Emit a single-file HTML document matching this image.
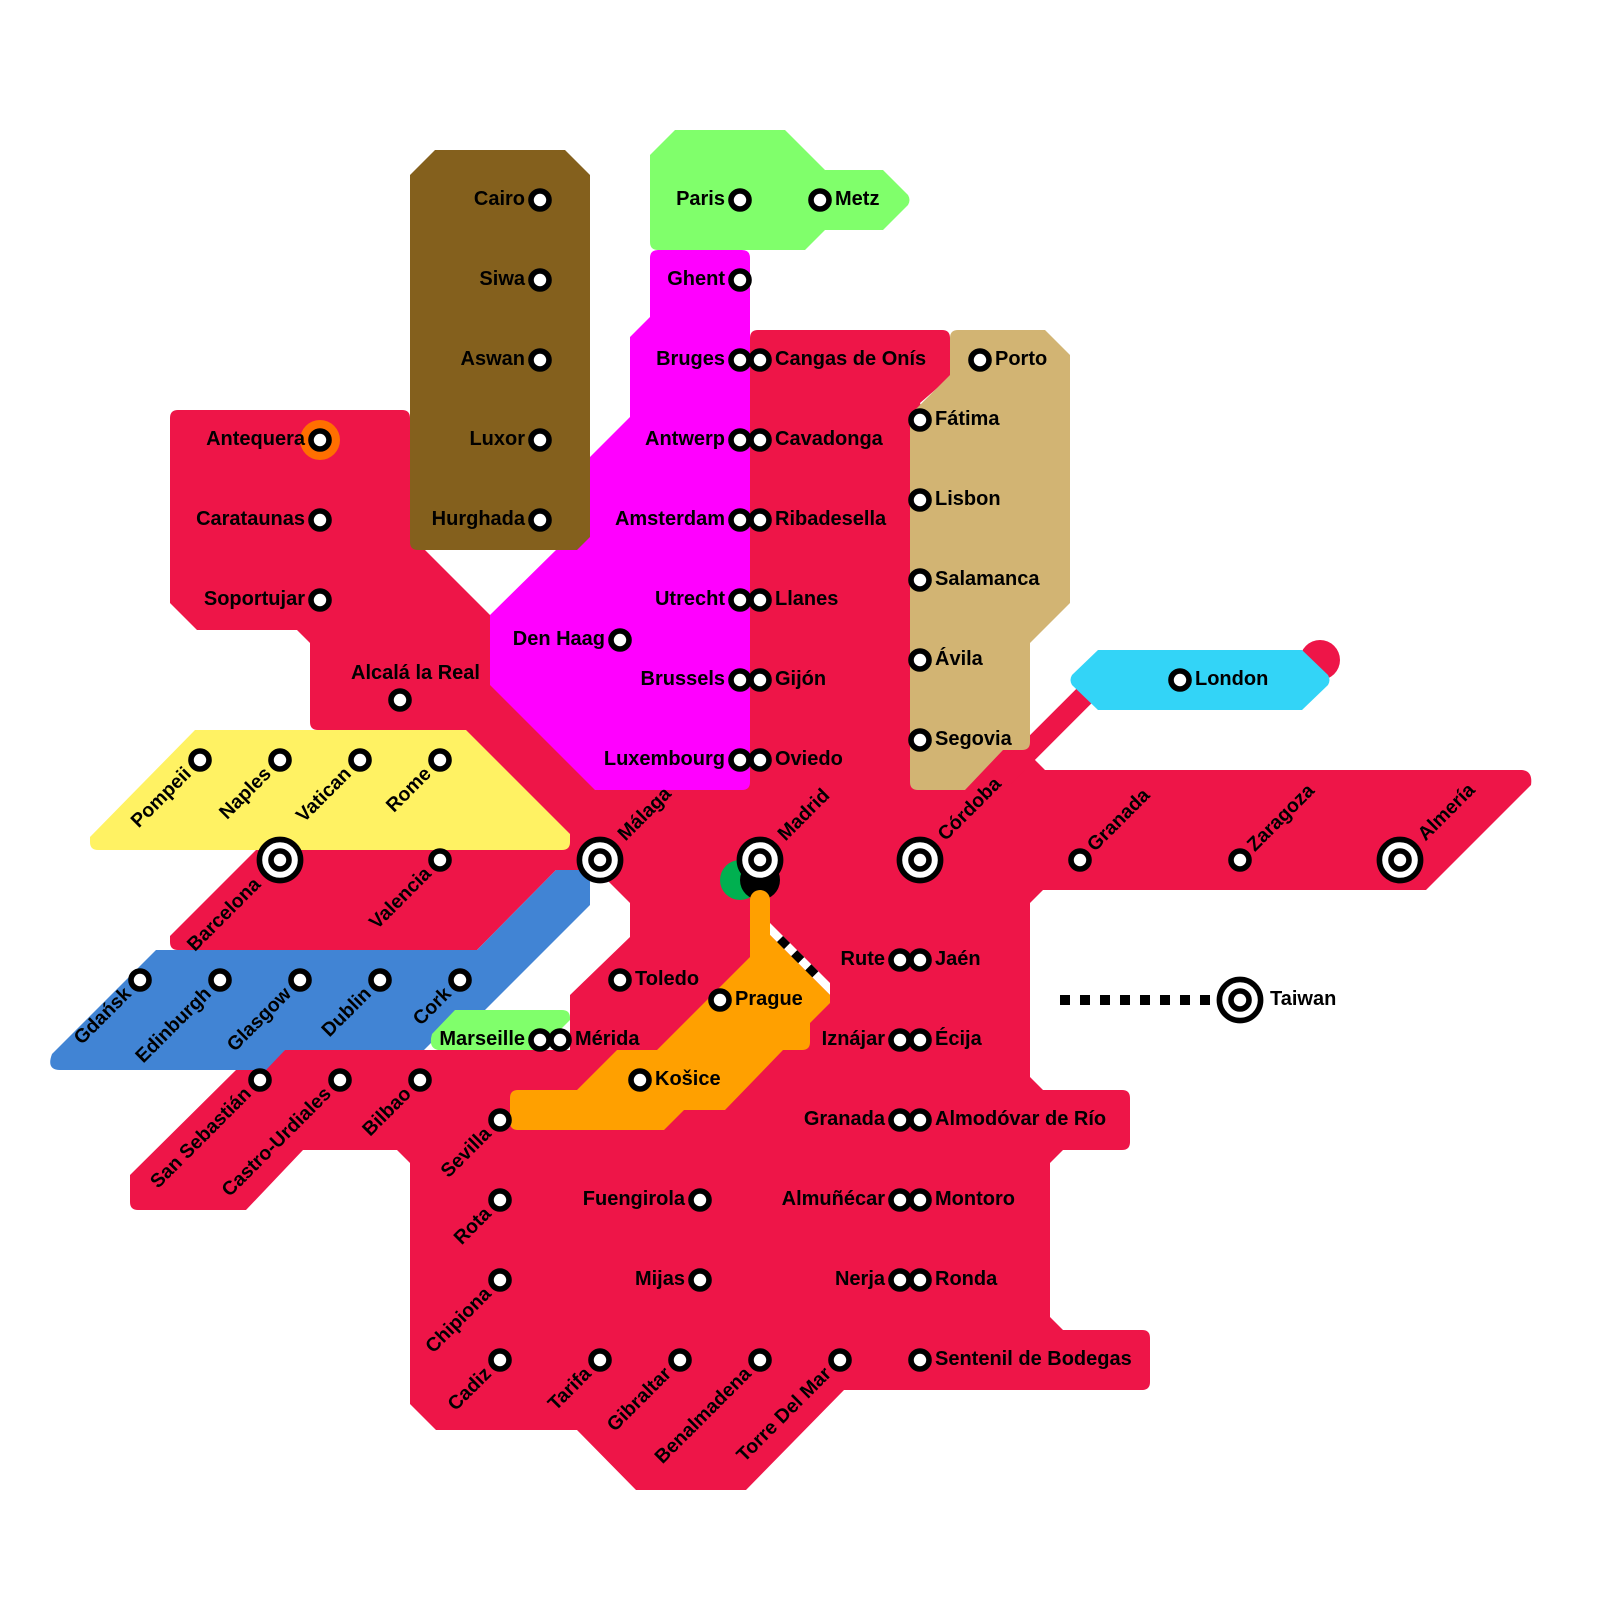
<!DOCTYPE html>
<html lang="en"><head><meta charset="utf-8"><title>Transit map</title>
<style>
html,body{margin:0;padding:0;background:#fff}
svg{display:block}
text{font-family:"Liberation Sans",sans-serif;font-weight:bold;font-size:20px;fill:#000}
.e{text-anchor:end}
.r{font-size:19.5px}
.s{fill:#fff;stroke:#000;stroke-width:5.6}
</style></head><body>
<svg xmlns="http://www.w3.org/2000/svg" width="1600" height="1600" viewBox="0 0 1600 1600">
<rect width="1600" height="1600" fill="#fff"/>
<!-- red -->
<path fill="#ee1548" d="M178,410 L402,410 Q410,410 410,418 L410,535 L425,550 L490,615 L530,640 L750,338 Q750,330 758,330 L942,330 Q950,330 950,338 L950,377 L920,403 L1015,750 L1035,760 L1045,770 L1522,770 Q1533,771 1531,785 L1426,890 L1043,890 L1030,903 L1030,1077 L1043,1090 L1122,1090 Q1130,1090 1130,1098 L1130,1142 Q1130,1150 1122,1150 L1063,1150 L1050,1163 L1050,1317 L1063,1330 L1142,1330 Q1150,1330 1150,1338 L1150,1382 Q1150,1390 1142,1390 L844,1390 L746,1490 L636,1490 L577,1430 L436,1430 L410,1404 L410,1163 L397,1150 L303,1150 L246,1210 L138,1210 Q130,1210 130,1202 L130,1175 L236,1070 L285,1050 L570,1050 L570,995 L630,937 L630,903 L597,870 L556,870 L477,950 L178,950 Q170,950 170,942 L170,936 L256,850 L320,735 L320,730 L318,730 Q310,730 310,722 L310,643 L297,630 L197,630 L170,603 L170,418 Q170,410 178,410 Z"/>
<line x1="1000" y1="780" x2="1090" y2="690" stroke="#ee1548" stroke-width="21"/>
<circle cx="1320" cy="660" r="20" fill="#ee1548"/>
<!-- magenta -->
<path fill="#ff00ff" d="M658,250 L742,250 Q750,250 750,258 L750,782 Q750,790 742,790 L595,790 L490,685 L490,615 L556,550 L590,516 L590,457 L630,417 L630,337 L650,317 L650,258 Q650,250 658,250 Z"/>
<!-- brown -->
<path fill="#84601d" d="M410,175 L435,150 L565,150 L590,175 L590,537 L577,550 L418,550 Q410,550 410,542 Z"/>
<!-- light green -->
<path fill="#80ff6b" d="M650,155 L675,130 L785,130 L825,170 L883,170 L908,195 Q911,200 908,205 L883,230 L825,230 L805,250 L658,250 Q650,250 650,242 Z"/>
<!-- tan -->
<path fill="#d2b473" d="M958,330 L1045,330 L1070,355 L1070,603 L1030,643 L1030,742 Q1030,750 1022,750 L1003,750 L965,790 L918,790 Q910,790 910,782 L910,415 L950,375 L950,338 Q950,330 958,330 Z"/>
<!-- cyan -->
<path fill="#33d4f7" d="M1072,675 L1098,650 L1302,650 L1328,675 Q1331,680 1328,685 L1302,710 L1098,710 L1072,685 Q1069,680 1072,675 Z"/>
<!-- yellow -->
<path fill="#fff263" d="M195,730 L466,730 L570,834 L570,842 Q570,850 562,850 L98,850 Q90,850 90,842 L90,837 Z"/>
<!-- blue -->
<path fill="#4184d4" d="M156,950 L477,950 L556,870 L582,870 Q590,870 590,878 L590,905 L485,1010 L464,1010 L424,1050 L285,1050 L266,1070 L60,1070 Q46,1070 52,1054 Z"/>
<!-- Marseille green -->
<path fill="#80ff6b" d="M455,1010 L562,1010 Q570,1010 570,1018 L570,1020 L540,1050 L438,1050 Q428,1048 432,1034 Z"/>
<!-- Madrid dots -->
<circle cx="740" cy="880" r="20" fill="#00b050"/>
<circle cx="760" cy="880" r="20" fill="#000"/>
<!-- dashed under orange -->
<polygon points="770,923 830,983 830,995 770,935" fill="#fff"/>
<line x1="779.5" y1="939.5" x2="818" y2="978" stroke="#000" stroke-width="10" stroke-dasharray="10 10"/>
<!-- orange -->
<path fill="#ffa000" d="M750,900 A10,10 0 0 1 770,900 L770,935 L830,995 L830,1003 L810,1023 L810,1042 Q810,1050 802,1050 L783,1050 L725,1110 L684,1110 L664,1130 L518,1130 Q510,1130 510,1122 L510,1098 Q510,1090 518,1090 L577,1090 L617,1050 L657,1050 L750,957 Z"/>
<!-- Taiwan dashes -->
<line x1="1060" y1="1000" x2="1210" y2="1000" stroke="#000" stroke-width="10" stroke-dasharray="10 10"/>
<!-- Antequera ring -->
<circle cx="320" cy="440" r="20" fill="#ff6f00"/>
<!-- stations -->
<g class="st">
<circle class="s" cx="540" cy="200" r="9"/><circle class="s" cx="540" cy="280" r="9"/><circle class="s" cx="540" cy="360" r="9"/><circle class="s" cx="540" cy="440" r="9"/><circle class="s" cx="540" cy="520" r="9"/>
<circle class="s" cx="740" cy="200" r="9"/><circle class="s" cx="820" cy="200" r="9"/><circle class="s" cx="740" cy="280" r="9"/>
<circle class="s" cx="740" cy="360" r="9"/><circle class="s" cx="760" cy="360" r="9"/>
<circle class="s" cx="740" cy="440" r="9"/><circle class="s" cx="760" cy="440" r="9"/>
<circle class="s" cx="740" cy="520" r="9"/><circle class="s" cx="760" cy="520" r="9"/>
<circle class="s" cx="740" cy="600" r="9"/><circle class="s" cx="760" cy="600" r="9"/>
<circle class="s" cx="620" cy="640" r="9"/>
<circle class="s" cx="740" cy="680" r="9"/><circle class="s" cx="760" cy="680" r="9"/>
<circle class="s" cx="740" cy="760" r="9"/><circle class="s" cx="760" cy="760" r="9"/>
<circle class="s" cx="980" cy="360" r="9"/><circle class="s" cx="920" cy="420" r="9"/><circle class="s" cx="920" cy="500" r="9"/><circle class="s" cx="920" cy="580" r="9"/><circle class="s" cx="920" cy="660" r="9"/><circle class="s" cx="920" cy="740" r="9"/>
<circle class="s" cx="1180" cy="680" r="9"/>
<circle class="s" cx="320" cy="440" r="9"/><circle class="s" cx="320" cy="520" r="9"/><circle class="s" cx="320" cy="600" r="9"/><circle class="s" cx="400" cy="700" r="9"/>
<circle class="s" cx="200" cy="760" r="9"/><circle class="s" cx="280" cy="760" r="9"/><circle class="s" cx="360" cy="760" r="9"/><circle class="s" cx="440" cy="760" r="9"/>
<circle class="s" cx="440" cy="860" r="9"/><circle class="s" cx="1080" cy="860" r="9"/><circle class="s" cx="1240" cy="860" r="9"/>
<circle class="s" cx="140" cy="980" r="9"/><circle class="s" cx="220" cy="980" r="9"/><circle class="s" cx="300" cy="980" r="9"/><circle class="s" cx="380" cy="980" r="9"/><circle class="s" cx="460" cy="980" r="9"/>
<circle class="s" cx="620" cy="980" r="9"/><circle class="s" cx="720" cy="1000" r="9"/>
<circle class="s" cx="900" cy="960" r="9"/><circle class="s" cx="920" cy="960" r="9"/>
<circle class="s" cx="900" cy="1040" r="9"/><circle class="s" cx="920" cy="1040" r="9"/>
<circle class="s" cx="540" cy="1040" r="9"/><circle class="s" cx="560" cy="1040" r="9"/>
<circle class="s" cx="640" cy="1080" r="9"/>
<circle class="s" cx="900" cy="1120" r="9"/><circle class="s" cx="920" cy="1120" r="9"/>
<circle class="s" cx="260" cy="1080" r="9"/><circle class="s" cx="340" cy="1080" r="9"/><circle class="s" cx="420" cy="1080" r="9"/>
<circle class="s" cx="500" cy="1120" r="9"/><circle class="s" cx="500" cy="1200" r="9"/><circle class="s" cx="500" cy="1280" r="9"/><circle class="s" cx="500" cy="1360" r="9"/>
<circle class="s" cx="600" cy="1360" r="9"/><circle class="s" cx="680" cy="1360" r="9"/><circle class="s" cx="760" cy="1360" r="9"/><circle class="s" cx="840" cy="1360" r="9"/><circle class="s" cx="920" cy="1360" r="9"/>
<circle class="s" cx="700" cy="1200" r="9"/><circle class="s" cx="700" cy="1280" r="9"/>
<circle class="s" cx="900" cy="1200" r="9"/><circle class="s" cx="920" cy="1200" r="9"/>
<circle class="s" cx="900" cy="1280" r="9"/><circle class="s" cx="920" cy="1280" r="9"/>
<circle class="s" cx="280" cy="860" r="20.6"/><circle class="s" cx="280" cy="860" r="9"/>
<circle class="s" cx="600" cy="860" r="20.6"/><circle class="s" cx="600" cy="860" r="9"/>
<circle class="s" cx="760" cy="860" r="20.6"/><circle class="s" cx="760" cy="860" r="9"/>
<circle class="s" cx="920" cy="860" r="20.6"/><circle class="s" cx="920" cy="860" r="9"/>
<circle class="s" cx="1400" cy="860" r="20.6"/><circle class="s" cx="1400" cy="860" r="9"/>
<circle class="s" cx="1240" cy="1000" r="20.6"/><circle class="s" cx="1240" cy="1000" r="9"/>
</g>
<!-- horizontal labels left -->
<text class="e" x="525" y="205">Cairo</text><text class="e" x="525" y="285">Siwa</text><text class="e" x="525" y="365">Aswan</text><text class="e" x="525" y="445">Luxor</text><text class="e" x="525" y="525">Hurghada</text>
<text class="e" x="725" y="205">Paris</text><text class="e" x="725" y="285">Ghent</text><text class="e" x="725" y="365">Bruges</text><text class="e" x="725" y="445">Antwerp</text><text class="e" x="725" y="525">Amsterdam</text><text class="e" x="725" y="605">Utrecht</text><text class="e" x="605" y="645">Den Haag</text><text class="e" x="725" y="685">Brussels</text><text class="e" x="725" y="765">Luxembourg</text>
<text class="e" x="305" y="445">Antequera</text><text class="e" x="305" y="525">Carataunas</text><text class="e" x="305" y="605">Soportujar</text>
<text x="351" y="679">Alcalá la Real</text>
<text class="e" x="885" y="965">Rute</text><text class="e" x="885" y="1045">Iznájar</text><text class="e" x="525" y="1045">Marseille</text><text class="e" x="885" y="1125">Granada</text><text class="e" x="885" y="1205">Almuñécar</text><text class="e" x="885" y="1285">Nerja</text><text class="e" x="685" y="1205">Fuengirola</text><text class="e" x="685" y="1285">Mijas</text>
<!-- horizontal labels right -->
<text x="835" y="205">Metz</text><text x="775" y="365">Cangas de Onís</text><text x="775" y="445">Cavadonga</text><text x="775" y="525">Ribadesella</text><text x="775" y="605">Llanes</text><text x="775" y="685">Gijón</text><text x="775" y="765">Oviedo</text>
<text x="995" y="365">Porto</text><text x="935" y="425">Fátima</text><text x="935" y="505">Lisbon</text><text x="935" y="585">Salamanca</text><text x="935" y="665">Ávila</text><text x="935" y="745">Segovia</text>
<text x="1195" y="685">London</text><text x="635" y="985">Toledo</text><text x="735" y="1005">Prague</text><text x="935" y="965">Jaén</text><text x="935" y="1045">Écija</text><text x="575" y="1045">Mérida</text><text x="655" y="1085">Košice</text><text x="935" y="1125">Almodóvar de Río</text><text x="935" y="1205">Montoro</text><text x="935" y="1285">Ronda</text><text x="935" y="1365">Sentenil de Bodegas</text>
<text x="1270" y="1005">Taiwan</text>
<!-- rotated -->
<text class="e r" transform="translate(200 760) rotate(-45)" x="-16" y="5">Pompeii</text>
<text class="e r" transform="translate(280 760) rotate(-45)" x="-16" y="5">Naples</text>
<text class="e r" transform="translate(360 760) rotate(-45)" x="-16" y="5">Vatican</text>
<text class="e r" transform="translate(440 760) rotate(-45)" x="-16" y="5">Rome</text>
<text class="e r" transform="translate(280 860) rotate(-45)" x="-31" y="5">Barcelona</text>
<text class="e r" transform="translate(440 860) rotate(-45)" x="-16" y="5">Valencia</text>
<text class="e r" transform="translate(140 980) rotate(-45)" x="-16" y="5">Gdańsk</text>
<text class="e r" transform="translate(220 980) rotate(-45)" x="-16" y="5">Edinburgh</text>
<text class="e r" transform="translate(300 980) rotate(-45)" x="-16" y="5">Glasgow</text>
<text class="e r" transform="translate(380 980) rotate(-45)" x="-16" y="5">Dublin</text>
<text class="e r" transform="translate(460 980) rotate(-45)" x="-16" y="5">Cork</text>
<text class="e r" transform="translate(260 1080) rotate(-45)" x="-16" y="5">San Sebastián</text>
<text class="e r" transform="translate(340 1080) rotate(-45)" x="-16" y="5">Castro-Urdiales</text>
<text class="e r" transform="translate(420 1080) rotate(-45)" x="-16" y="5">Bilbao</text>
<text class="e r" transform="translate(500 1120) rotate(-45)" x="-16" y="5">Sevilla</text>
<text class="e r" transform="translate(500 1200) rotate(-45)" x="-16" y="5">Rota</text>
<text class="e r" transform="translate(500 1280) rotate(-45)" x="-16" y="5">Chipiona</text>
<text class="e r" transform="translate(500 1360) rotate(-45)" x="-16" y="5">Cadiz</text>
<text class="e r" transform="translate(600 1360) rotate(-45)" x="-16" y="5">Tarifa</text>
<text class="e r" transform="translate(680 1360) rotate(-45)" x="-16" y="5">Gibraltar</text>
<text class="e r" transform="translate(760 1360) rotate(-45)" x="-16" y="5">Benalmadena</text>
<text class="e r" transform="translate(840 1360) rotate(-45)" x="-16" y="5">Torre Del Mar</text>
<text class="r" transform="translate(600 860) rotate(-45)" x="31" y="5">Málaga</text>
<text class="r" transform="translate(760 860) rotate(-45)" x="31" y="5">Madrid</text>
<text class="r" transform="translate(920 860) rotate(-45)" x="31" y="5">Córdoba</text>
<text class="r" transform="translate(1080 860) rotate(-45)" x="16" y="5">Granada</text>
<text class="r" transform="translate(1240 860) rotate(-45)" x="16" y="5">Zaragoza</text>
<text class="r" transform="translate(1400 860) rotate(-45)" x="31" y="5">Almería</text>
</svg>
</body></html>
